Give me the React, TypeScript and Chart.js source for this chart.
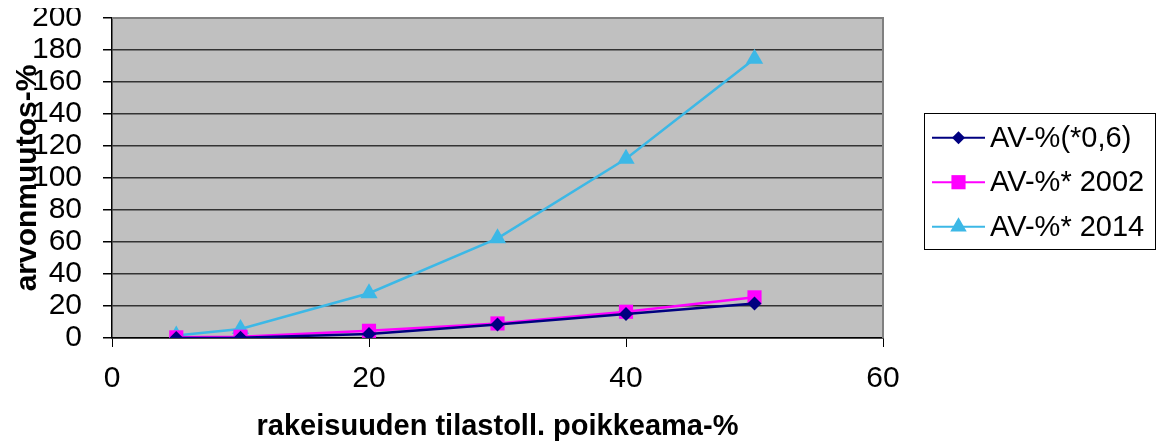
import React, { useEffect, useRef } from "react";
import { Chart, registerables } from "chart.js";

Chart.register(...registerables);

const xValues = [5, 10, 20, 30, 40, 50];
const seriesNames = ["AV-%(*0,6)", "AV-%* 2002", "AV-%* 2014"];
const avFactor = [0, 0.2, 2.5, 8.5, 15, 21.5];
const av2002 = [0.4, 0.8, 4.5, 9.1, 16.4, 25.4];
const av2014 = [1.5, 5.6, 28, 62.3, 112, 174.5];
const xTicks = [0, 20, 40, 60];
const yTicks = [0, 20, 40, 60, 80, 100, 120, 140, 160, 180, 200];

const colors = ["#000080", "#FF00FF", "#3CB8E6"];
const styles = ["rectRot", "rect", "triangle"];
const radii = [7, 10, 10];

const FONT = "'Liberation Sans', Arial, sans-serif";
const W = 1152;
const H = 434;

function drawMarker(ctx: CanvasRenderingContext2D, style: string, x: number, y: number, r: number) {
  ctx.beginPath();
  if (style === "rectRot") {
    ctx.moveTo(x, y - r);
    ctx.lineTo(x + r, y);
    ctx.lineTo(x, y + r);
    ctx.lineTo(x - r, y);
  } else if (style === "rect") {
    const s = r * Math.SQRT1_2;
    ctx.rect(x - s, y - s, 2 * s, 2 * s);
  } else {
    const w = r * Math.sin(Math.PI / 3);
    ctx.moveTo(x, y - r);
    ctx.lineTo(x + w, y + r / 2);
    ctx.lineTo(x - w, y + r / 2);
  }
  ctx.closePath();
  ctx.fill();
}

const plotDecor = {
  id: "plotDecor",
  beforeDraw(chart: any) {
    const { ctx, chartArea: a } = chart;
    ctx.save();
    ctx.fillStyle = "#C0C0C0";
    ctx.fillRect(a.left, a.top, a.right - a.left, a.bottom - a.top);
    ctx.restore();
  },
  beforeDatasetsDraw(chart: any) {
    const { ctx, chartArea: a } = chart;
    ctx.save();
    ctx.strokeStyle = "#808080";
    ctx.lineWidth = 2;
    ctx.beginPath();
    ctx.moveTo(a.left, a.top);
    ctx.lineTo(a.right, a.top);
    ctx.lineTo(a.right, a.bottom);
    ctx.stroke();
    ctx.restore();
  },
  afterDraw(chart: any) {
    const { ctx } = chart;
    ctx.save();
    ctx.strokeStyle = "#000";
    ctx.lineWidth = 1;
    ctx.strokeRect(916.5, 105.5, 231, 136);
    chart.data.datasets.forEach((ds: any, i: number) => {
      const y = 129.7 + i * 44.5;
      ctx.strokeStyle = ds.borderColor;
      ctx.lineWidth = 2;
      ctx.beginPath();
      ctx.moveTo(924, y);
      ctx.lineTo(977, y);
      ctx.stroke();
      ctx.fillStyle = ds.backgroundColor;
      drawMarker(ctx, ds.pointStyle, 950.5, y, i === 0 ? 6.5 : i === 1 ? 10 : 9.5);
      ctx.fillStyle = "#000";
      ctx.font = `29px ${FONT}`;
      ctx.textAlign = "left";
      ctx.textBaseline = "middle";
      ctx.fillText(ds.label, 982, y + 1);
    });
    ctx.restore();
  },
};

export default function App() {
  const ref = useRef<HTMLCanvasElement | null>(null);
  useEffect(() => {
    document.body.style.marginBottom = "0px";
    if (!ref.current) return;
    const seriesData = [avFactor, av2002, av2014];
    const chart = new Chart(ref.current, {
      type: "line",
      data: {
        datasets: seriesData.map((vals, i) => ({
          label: seriesNames[i],
          data: xValues.map((x, j) => ({ x, y: vals[j] })),
          borderColor: colors[i],
          backgroundColor: colors[i],
          pointBackgroundColor: colors[i],
          pointBorderColor: colors[i],
          pointBorderWidth: 0,
          pointStyle: styles[i] as any,
          pointRadius: radii[i],
          borderWidth: 2.5,
          tension: 0,
          fill: false,
        })),
      },
      options: {
        animation: false,
        responsive: false,
        maintainAspectRatio: false,
        devicePixelRatio: 1,
        layout: { padding: { left: 0, top: 9, right: 277, bottom: 0 } },
        plugins: { legend: { display: false }, tooltip: { enabled: false } },
        scales: {
          x: {
            type: "linear",
            min: 0,
            max: 60,
            afterBuildTicks: (s: any) => {
              s.ticks = xTicks.map((v) => ({ value: v }));
            },
            afterFit: (s: any) => {
              s.height = H - 330;
              s.paddingLeft = 0;
              s.paddingRight = 0;
            },
            ticks: { color: "#000", font: { family: FONT, size: 30 }, padding: 14, autoSkip: false, maxRotation: 0 },
            grid: { display: true, drawOnChartArea: false, drawTicks: true, tickLength: 9, tickColor: "#000", tickWidth: 1 },
            border: { display: true, color: "#000", width: 1.5 },
            title: {
              display: true,
              text: "rakeisuuden tilastoll. poikkeama-%",
              color: "#000",
              font: { family: FONT, size: 29, weight: "bold", lineHeight: 1 },
              padding: { top: 0, bottom: 1 },
            },
          },
          y: {
            type: "linear",
            min: 0,
            max: 200,
            afterBuildTicks: (s: any) => {
              s.ticks = yTicks.map((v) => ({ value: v }));
            },
            afterFit: (s: any) => {
              s.width = 104;
              s.paddingTop = 0;
              s.paddingBottom = 0;
            },
            ticks: { color: "#000", font: { family: FONT, size: 30 }, padding: 21, autoSkip: false },
            grid: { color: "#333", lineWidth: 1.5, drawTicks: true, tickLength: 9, tickColor: "#000" },
            border: { display: true, color: "#000", width: 1.5 },
            title: {
              display: true,
              text: "arvonmuutos-%",
              color: "#000",
              font: { family: FONT, size: 30, weight: "bold", lineHeight: 1 },
              padding: { top: 5, bottom: 0 },
            },
          },
        },
      },
      plugins: [plotDecor],
    });
    return () => chart.destroy();
  }, []);
  return (
    <div style={{ width: W, height: H, position: "relative" }}>
      <canvas ref={ref} width={W} height={H} style={{ display: "block", width: W, height: H }} />
    </div>
  );
}
